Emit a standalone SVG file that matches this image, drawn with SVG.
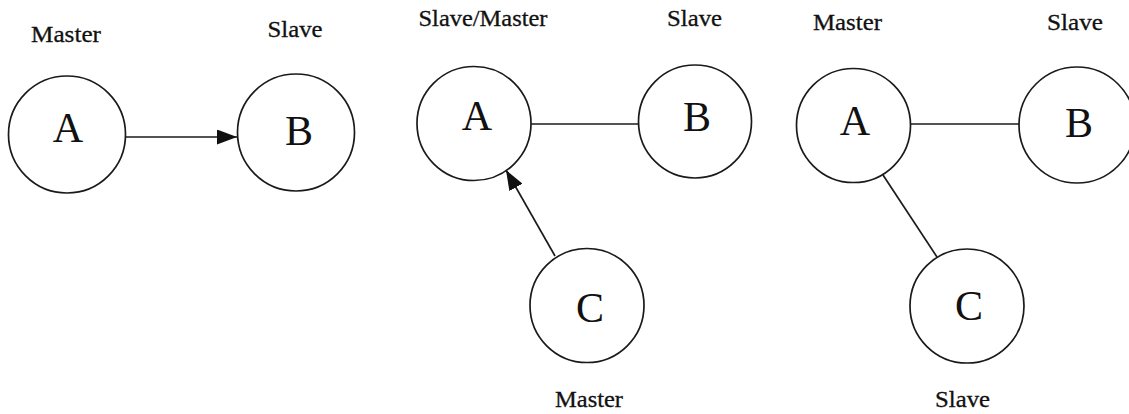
<svg xmlns="http://www.w3.org/2000/svg" width="1129" height="414" viewBox="0 0 1129 414">
<defs>
<style>
.node circle{fill:#fff;stroke:#1a1a1a;stroke-width:1.7}
.lt{font-family:"Liberation Serif","Times New Roman",serif;font-size:42px;fill:#111;text-anchor:middle}
.lb{font-family:"Liberation Serif","Times New Roman",serif;font-size:23px;fill:#111;text-anchor:middle;stroke:#111;stroke-width:0.3}
.edges line{stroke:#1a1a1a;stroke-width:1.7}
</style>
<marker id="ah" markerUnits="userSpaceOnUse" markerWidth="20" markerHeight="15" refX="20" refY="7.5" orient="auto">
<path d="M0,0 L20,7.5 L0,15 z" fill="#111"/>
</marker>
</defs>
<rect width="1129" height="414" fill="#fff"/>
<g class="edges">
<line x1="126" y1="137" x2="237" y2="137" marker-end="url(#ah)"/>
<line x1="531" y1="124" x2="639" y2="124"/>
<line x1="555" y1="256" x2="506" y2="170" marker-end="url(#ah)"/>
<line x1="910" y1="124" x2="1019" y2="124"/>
<line x1="883" y1="175" x2="937" y2="257"/>
</g>
<g id="p1A" class="node"><circle cx="67" cy="134.5" r="58.5"/><text class="lt" x="68" y="142">A</text></g>
<g id="p1B" class="node"><circle cx="296" cy="132.5" r="58.5"/><text class="lt" x="299" y="145">B</text></g>
<g id="p2A" class="node"><circle cx="474" cy="123.5" r="57"/><text class="lt" x="477" y="130">A</text></g>
<g id="p2B" class="node"><circle cx="695" cy="121.5" r="56.5"/><text class="lt" x="697" y="131">B</text></g>
<g id="p2C" class="node"><circle cx="587" cy="305.5" r="57"/><text class="lt" x="590" y="322">C</text></g>
<g id="p3A" class="node"><circle cx="853.5" cy="125.5" r="57"/><text class="lt" x="855" y="135">A</text></g>
<g id="p3B" class="node"><circle cx="1077" cy="125" r="58"/><text class="lt" x="1079" y="137">B</text></g>
<g id="p3C" class="node"><circle cx="967" cy="306" r="57"/><text class="lt" x="969" y="320">C</text></g>
<g id="labels">
<text class="lb" x="66" y="42" textLength="70" lengthAdjust="spacingAndGlyphs">Master</text>
<text class="lb" x="295" y="37" textLength="55" lengthAdjust="spacingAndGlyphs">Slave</text>
<text class="lb" x="483" y="26" textLength="129" lengthAdjust="spacingAndGlyphs">Slave/Master</text>
<text class="lb" x="694.5" y="26" textLength="55" lengthAdjust="spacingAndGlyphs">Slave</text>
<text class="lb" x="589" y="407" textLength="68" lengthAdjust="spacingAndGlyphs">Master</text>
<text class="lb" x="847.5" y="30" textLength="69" lengthAdjust="spacingAndGlyphs">Master</text>
<text class="lb" x="1075" y="30" textLength="56" lengthAdjust="spacingAndGlyphs">Slave</text>
<text class="lb" x="962.5" y="407" textLength="55" lengthAdjust="spacingAndGlyphs">Slave</text>
</g>
</svg>
